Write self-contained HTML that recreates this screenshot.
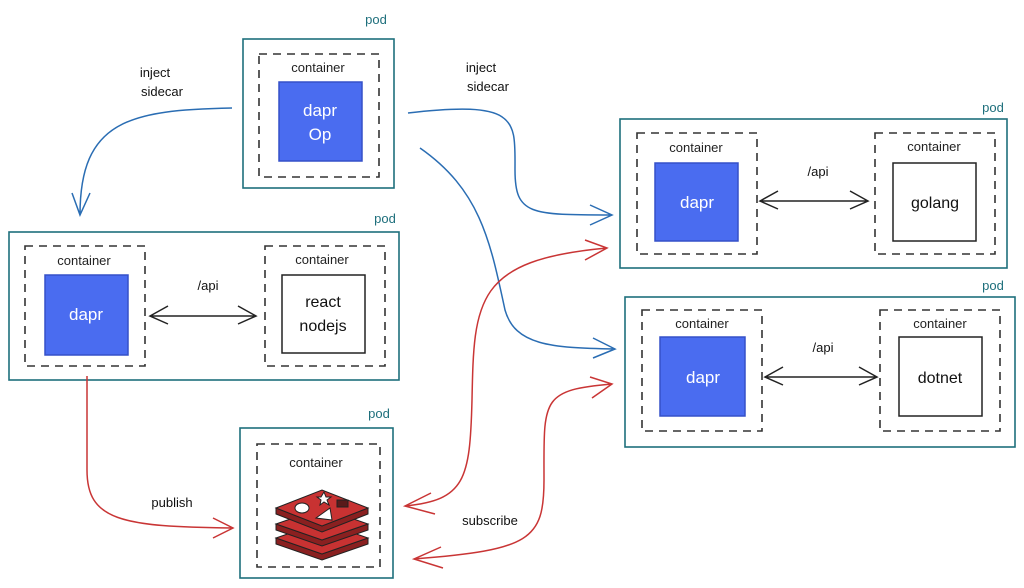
<!DOCTYPE html>
<html><head><meta charset="utf-8"><style>
html,body{margin:0;padding:0;background:#fff;}
svg{display:block;}
text{font-family:"Liberation Sans",sans-serif;}
</style></head><body>
<svg width="1024" height="588" viewBox="0 0 1024 588" xmlns="http://www.w3.org/2000/svg">
<g fill="none" stroke="#1e6f7c" stroke-width="1.6">
<rect x="243" y="39" width="151" height="149"/>
<rect x="9" y="232" width="390" height="148"/>
<rect x="620" y="119" width="387" height="149"/>
<rect x="625" y="297" width="390" height="150"/>
<rect x="240" y="428" width="153" height="150"/>
</g>
<g fill="#1e6f7c" font-size="13" text-anchor="middle">
<text x="376" y="24">pod</text><text x="385" y="223">pod</text>
<text x="993" y="112">pod</text><text x="993" y="290">pod</text>
<text x="379" y="418">pod</text>
</g>
<g fill="none" stroke="#333" stroke-width="1.6" stroke-dasharray="8 6">
<rect x="259" y="54" width="120" height="123"/>
<rect x="25" y="246" width="120" height="120"/>
<rect x="265" y="246" width="120" height="120"/>
<rect x="637" y="133" width="120" height="121"/>
<rect x="875" y="133" width="120" height="121"/>
<rect x="642" y="310" width="120" height="121"/>
<rect x="880" y="310" width="120" height="121"/>
<rect x="257" y="444" width="123" height="123"/>
</g>
<g fill="#222" font-size="13" text-anchor="middle">
<text x="318" y="72">container</text>
<text x="84" y="265">container</text>
<text x="322" y="264">container</text>
<text x="696" y="152">container</text>
<text x="934" y="151">container</text>
<text x="702" y="328">container</text>
<text x="940" y="328">container</text>
<text x="316" y="467">container</text>
</g>
<g fill="#4a6cf0" stroke="#3550c8" stroke-width="1.5">
<rect x="279" y="82" width="83" height="79"/>
<rect x="45" y="275" width="83" height="80"/>
<rect x="655" y="163" width="83" height="78"/>
<rect x="660" y="337" width="85" height="79"/>
</g>
<g fill="#fff" stroke="#222" stroke-width="1.5">
<rect x="282" y="275" width="83" height="78"/>
<rect x="893" y="163" width="83" height="78"/>
<rect x="899" y="337" width="83" height="79"/>
</g>
<g fill="#fff" font-size="17" text-anchor="middle">
<text x="320" y="116">dapr</text><text x="320" y="140">Op</text>
<text x="86" y="320">dapr</text>
<text x="697" y="208">dapr</text>
<text x="703" y="383">dapr</text>
</g>
<g fill="#111" font-size="16" text-anchor="middle">
<text x="323" y="307">react</text><text x="323" y="331">nodejs</text>
<text x="935" y="208">golang</text>
<text x="940" y="383">dotnet</text>
</g>
<g fill="#111" font-size="13" text-anchor="middle">
<text x="208" y="290">/api</text>
<text x="818" y="176">/api</text>
<text x="823" y="352">/api</text>
<text x="155" y="77">inject</text><text x="162" y="96">sidecar</text>
<text x="481" y="72">inject</text><text x="488" y="91">sidecar</text>
<text x="172" y="507">publish</text>
<text x="490" y="525">subscribe</text>
</g>
<g fill="none" stroke="#222" stroke-width="1.5">
<path d="M150 316H256M168 306L150 316L168 324M238 306L256 316L238 324"/>
<path d="M760 201H868M778 191L760 201L778 209M850 191L868 201L850 209"/>
<path d="M765 377H877M783 367L765 377L783 385M859 367L877 377L859 385"/>
</g>
<g fill="none" stroke="#2a6db3" stroke-width="1.5">
<path d="M232 108C130 110 80 120 80 215M72 193L80 215L90 193"/>
<path d="M408 113C520 100 515 120 515 170C515 215 530 215 612 215M590 205L612 215L590 225"/>
<path d="M420 148C480 190 490 240 505 310C515 345 550 348 615 349M593 338L615 349L593 358"/>
</g>
<g fill="none" stroke="#c93535" stroke-width="1.5">
<path d="M87 376V470C87 520 120 527 233 528M213 518L233 528L213 538"/>
<path d="M405 506C465 500 470 480 472 400C474 300 475 260 607 248M585 240L607 248L585 260M431 493L405 506L435 514"/>
<path d="M414 559C530 550 544 540 544 480C544 400 540 390 612 384M590 377L612 384L592 398M441 547L414 559L443 568"/>
</g>
<g stroke="#222" stroke-width="1">
<path d="M276 538V544L322 560L368 544V538L322 554Z" fill="#8a2020"/>
<path d="M276 538L322 522L368 538L322 554Z" fill="#c83232"/>
<path d="M276 524V530L322 546L368 530V524L322 540Z" fill="#8a2020"/>
<path d="M276 524L322 508L368 524L322 540Z" fill="#c83232"/>
<path d="M276 508V514L322 532L368 514V508L322 526Z" fill="#8a2020"/>
<path d="M276 508L322 490L368 508L322 526Z" fill="#c83232"/>
<ellipse cx="302" cy="508" rx="7" ry="5" fill="#fff"/>
<path d="M316 518L330 508L332 520Z" fill="#fff"/>
<path d="M321 497l3 -5l2 5l5 0l-4 3l2 5l-5 -3l-4 3l1 -5l-4 -3z" fill="#fff"/>
<rect x="337" y="500" width="11" height="7" fill="#5a1a1a"/>
</g>
</svg>
</body></html>
